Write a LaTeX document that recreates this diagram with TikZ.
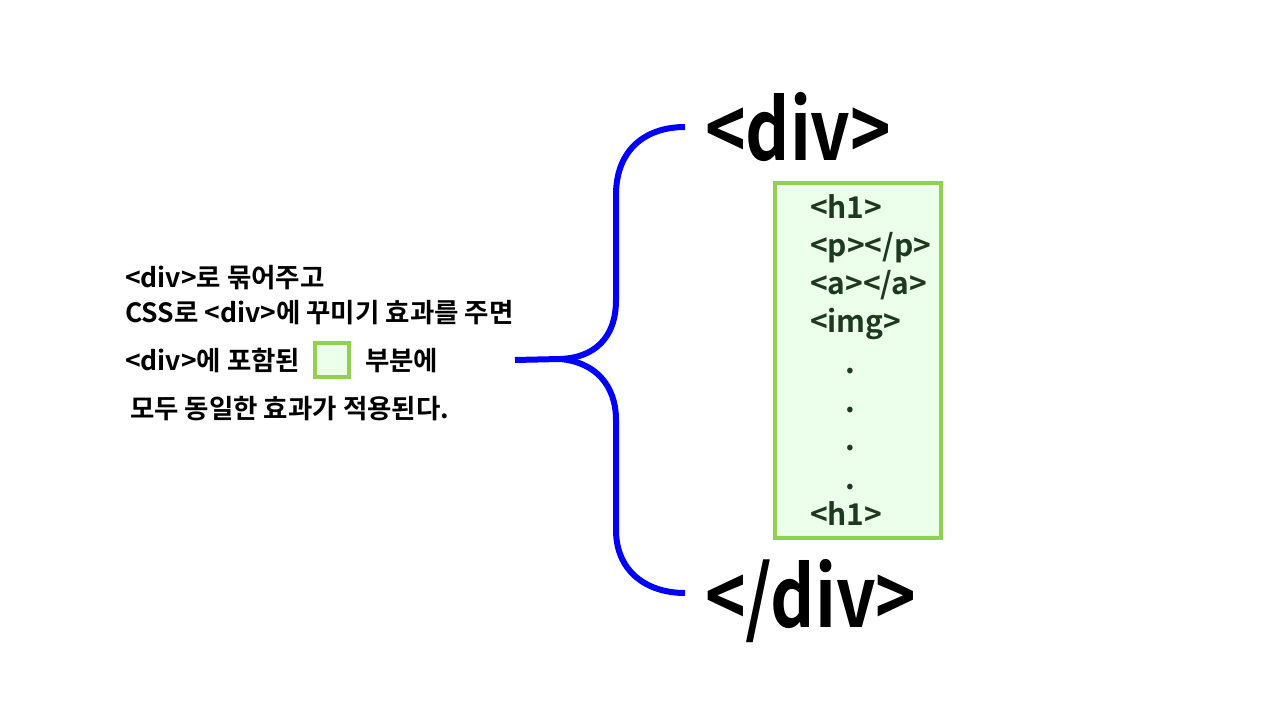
\documentclass[tikz,border=0pt]{standalone}
\usepackage{graphicx}
\usepackage{fontspec}
\setmainfont{Noto Sans CJK KR}[BoldFont={Noto Sans CJK KR Bold}]
\definecolor{divblue}{HTML}{0000FF}
\definecolor{boxgreen}{HTML}{92D050}
\definecolor{boxfill}{HTML}{EBFFEB}
\definecolor{tagtext}{HTML}{1E3A1E}

\begin{document}
\begin{tikzpicture}[
            x=1pt, y=-1pt,
            every node/.style={inner sep=0pt, outer sep=0pt},
            bigtag/.style={anchor=base west, font=\fontsize{84}{84}\selectfont\bfseries},
            tagline/.style={anchor=base west, text=tagtext, font=\fontsize{30}{30}\selectfont\bfseries},
            note/.style={anchor=base west, font=\fontsize{26.5}{26.5}\selectfont\bfseries},
            greenbox/.style={draw=boxgreen, line width=4pt, fill=boxfill},
            bracket/.style={draw=divblue, line width=6pt}]

            \useasboundingbox[fill=white] (0,0) rectangle (1280,720);

            % left explanation
            \node (line1) at (125,287) [note] {<div>로 묶어주고};
            \node (line2) at (125,322) [note] {CSS로 <div>에 꾸미기 효과를 주면};
            \node (line3a) at (125,370) [note] {<div>에 포함된};
            \node (samplebox) at (332,360) [greenbox, minimum size=34pt] {};
            \node (line3b) at (365,370) [note] {부분에};
            \node (line4) at (130,418) [note] {모두 동일한 효과가 적용된다.};

            % div tags and content box
            \node (opendiv) at (705,160) [bigtag] {\scalebox{0.82}[1]{<div>}};
            \node (closediv) at (705,627) [bigtag] {\scalebox{0.82}[1]{</div>}};
            \node (tagbox) at (775,183) [greenbox, anchor=north west,
                minimum width=166pt, minimum height=355pt] {};

            \node (tag1) at (810,218) [tagline] {<h1>};
            \node (tag2) at (810,256) [tagline] {<p></p>};
            \node (tag3) at (810,294) [tagline] {<a></a>};
            \node (tag4) at (810,332) [tagline] {<img>};
            \foreach \ypos [count=\i] in {371,410,448,487}{
                \node (dot\i) at (850,\ypos) [tagline, anchor=center] {.};
            }
            \node (tag5) at (810,525) [tagline] {<h1>};

            % brace
            \coordinate (bracetop) at (685,127);
            \coordinate (bracetip) at (515,360);
            \coordinate (bracebottom) at (685,593);
            \draw[bracket] (bracetop) .. controls (645,127) and (616,150) .. (616,195)
                -- (616,300) .. controls (616,340) and (592,358) .. (560,359) -- (bracetip);
            \draw[bracket] (560,359) .. controls (595,362) and (616,385) .. (616,420)
                -- (616,530) .. controls (616,570) and (645,593) .. (bracebottom);
        \end{tikzpicture}
\end{document}
